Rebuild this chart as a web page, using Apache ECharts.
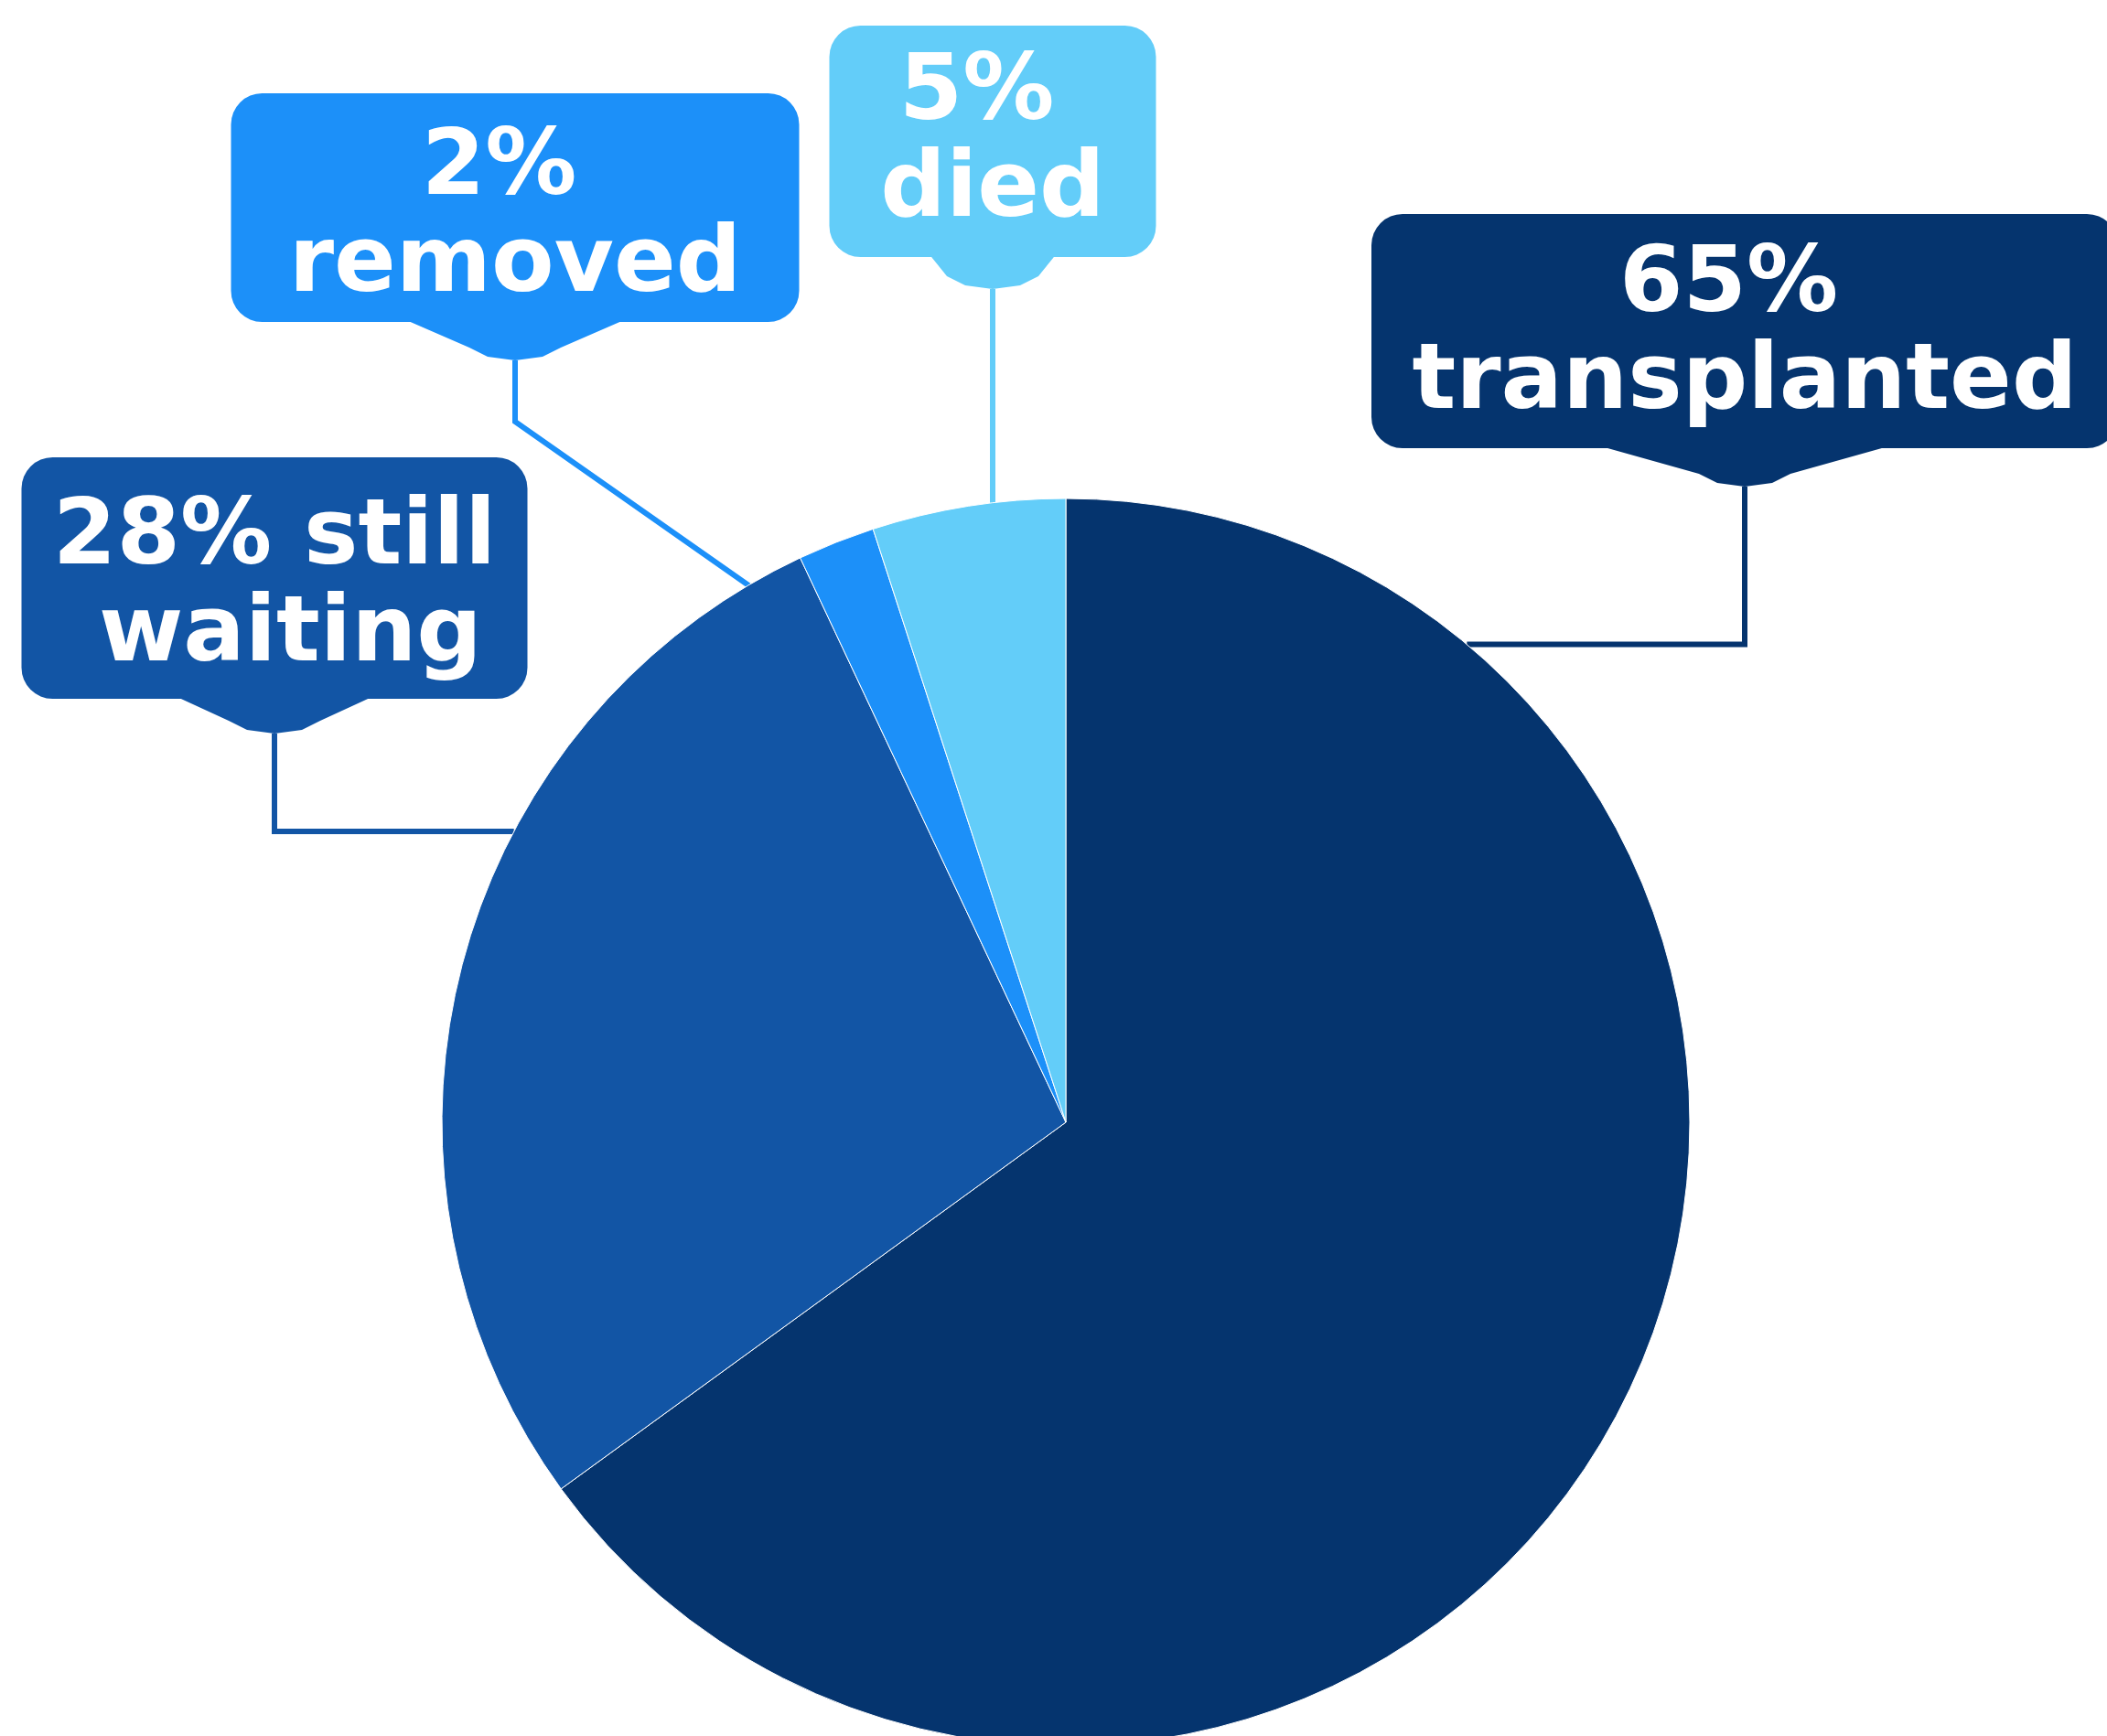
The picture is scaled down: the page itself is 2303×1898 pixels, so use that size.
<!DOCTYPE html>
<html>
<head>
<meta charset="utf-8">
<script src="https://cdn.jsdelivr.net/npm/echarts@6/dist/echarts.min.js"></script>
<style>
html, body { margin: 0; padding: 0; background: #fff; }
#pie { width: 2303px; height: 1898px; }
</style>
</head>
<body>
<div id="pie"></div>
<script>
// outcome shares, in percent
const categories = ['transplanted', 'still waiting', 'removed', 'died']
const shares = [65, 28, 2, 5]
const colors = ['#05346e', '#1255a5', '#1c90f9', '#63cdf9']

const center = [1165, 1227]
const radius = 682
const lineH = 106
const padX = 20

// callout boxes: centre x, top, width, paddings, pointer tip, where the leader meets the pie
const callouts = [
  { cx: 1907, top: 234, w: 816, padT: 27, padB: 17, tip: 532, tipW: 314, deg: 40, k: 1 },
  { cx: 300, top: 500, w: 553, padT: 37, padB: 15, tip: 802, tipW: 213, deg: 297.8, k: 1 },
  { cx: 563, top: 102, w: 621, padT: 31, padB: 7, tip: 394, tipW: 238, deg: 330.8, k: 0.95, elbowY: 461 },
  { cx: 1085, top: 28, w: 357, padT: 23, padB: 18, tip: 316, tipW: 137, deg: 353.3, k: 1 }
]

const onPie = (deg, k) => {
  const a = deg * Math.PI / 180
  return [center[0] + radius * k * Math.sin(a), center[1] - radius * k * Math.cos(a)]
}
const boxBottom = c => c.top + c.padT + 2 * lineH + c.padB

// the little pointer under each box
const pointers = callouts.map((c, i) => {
  const yb = boxBottom(c) - 2
  const h = c.tipW / 2
  return {
    type: 'polygon',
    z: 1,
    shape: {
      points: [
        [c.cx - h, yb], [c.cx - 50, c.tip - 14], [c.cx - 30, c.tip - 4], [c.cx, c.tip],
        [c.cx + 30, c.tip - 4], [c.cx + 50, c.tip - 14], [c.cx + h, yb]
      ]
    },
    style: { fill: colors[i] }
  }
})

const chart = echarts.init(document.getElementById('pie'))
chart.setOption({
  animation: false,
  graphic: { elements: pointers },
  series: [
    {
      type: 'pie',
      center: center,
      radius: radius,
      startAngle: 90,
      clockwise: true,
      avoidLabelOverlap: false,
      itemStyle: { borderColor: '#fff', borderWidth: 1 },
      label: {
        color: '#fff',
        fontFamily: 'DejaVu Sans',
        fontWeight: 'bold',
        fontSize: 100,
        lineHeight: lineH,
        overflow: 'break',
        borderRadius: 34,
        formatter: p => p.value + '% ' + p.name
      },
      labelLine: { show: true, lineStyle: { width: 6 } },
      labelLayout: p => {
        const c = callouts[p.dataIndex]
        const a = onPie(c.deg, c.k)
        const elbow = [c.cx, c.elbowY != null ? c.elbowY : a[1]]
        return {
          x: c.cx,
          y: c.top,
          align: 'center',
          verticalAlign: 'top',
          labelLinePoints: [a, elbow, [c.cx, c.tip]]
        }
      },
      data: categories.map((name, i) => ({
        name: name,
        value: shares[i],
        itemStyle: { color: colors[i] },
        label: {
          backgroundColor: colors[i],
          width: callouts[i].w - 2 * padX,
          padding: [callouts[i].padT, padX, callouts[i].padB, padX]
        }
      }))
    }
  ]
})
</script>
</body>
</html>
